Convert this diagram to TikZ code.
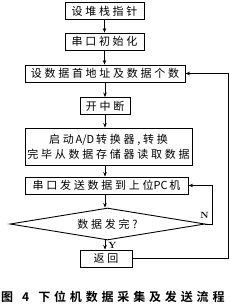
\documentclass[tikz,border=0pt]{standalone}
\usepackage{fontspec}
\newfontfamily\cjk[LetterSpace=25]{Noto Sans CJK SC}
\newfontfamily\cjklat{Noto Sans CJK SC}
\newfontfamily\capfont[LetterSpace=32]{Noto Sans CJK SC Bold}
\usetikzlibrary{arrows.meta,positioning,shapes.geometric}

\begin{document}
\begin{tikzpicture}[x=1pt, y=-1pt,
    pbox/.style={rectangle, draw=black, line width=0.9pt, fill=white,
                 font=\cjk\fontsize{11}{15}\selectfont, minimum height=17pt, inner sep=2pt},
    dbox/.style={diamond, aspect=6, draw=black, line width=0.9pt,
                 font=\cjk\fontsize{11}{15}\selectfont, minimum width=195pt, minimum height=32pt, inner sep=0pt},
    flow/.style={line width=0.9pt},
    >={Stealth[length=4.5pt,width=3.5pt]}
  ]
    \useasboundingbox (0,0) rectangle (230,306);

    % Blocks
    \node[pbox, minimum width=79pt] (stack) at (104.5,11) {设堆栈指针};
    \node[pbox, minimum width=79pt] (uart) at (104.5,41.5) {串口初始化};
    \node[pbox, minimum width=160pt] (addr) at (105,73.5) {设数据首地址及数据个数};
    \node[pbox, minimum width=50pt] (irq) at (105,106) {开中断};
    \node[pbox, minimum width=167pt, minimum height=37pt, align=center] (adc) at (108.5,146.5)
      {启动{\cjklat\,A/D\,}转换器,转换\\完毕从数据存储器读取数据};
    \node[pbox, minimum width=163pt] (send) at (106.5,185.5) {串口发送数据到上位{\cjklat PC\,}机};
    \node[dbox] (done) at (107.5,224) {数据发完?};
    \node[pbox, minimum width=52pt] (ret) at (106,258.5) {返回};

    % Main flow
    \draw[flow,->] (stack.south) -- (stack.south |- uart.north);
    \draw[flow,->] (uart.south) -- (uart.south |- addr.north);
    \draw[flow,->] (addr.south) -- (addr.south |- irq.north);
    \draw[flow,->] (irq.south) -- (irq.south |- adc.north);
    \draw[flow,->] (irq.south |- adc.south) -- (irq.south |- send.north);
    \draw[flow,->] (irq.south |- send.south) -- (irq.south |- done.north);
    \draw[flow,->] (irq.south |- done.south) -- node[right, font=\bfseries\small, inner sep=3pt] {Y} (irq.south |- ret.north);

    % Loops back
    \coordinate (nturn) at (212,224);
    \coordinate (rturn) at (228,258.5);
    \draw[flow,->] (done.east) node[above, font=\bfseries\small, xshift=-1pt, yshift=2pt] {N}
      -- (nturn) |- (send.east);
    \draw[flow,->] (ret.east) -- (rturn) |- (addr.east);

    % Caption
    \node[anchor=west, font=\capfont\fontsize{12}{14}\selectfont, inner sep=0pt] (cap) at (1,297)
      {图\hspace{9pt}4\hspace{9pt}下位机数据采集及发送流程};
\end{tikzpicture}
\end{document}
